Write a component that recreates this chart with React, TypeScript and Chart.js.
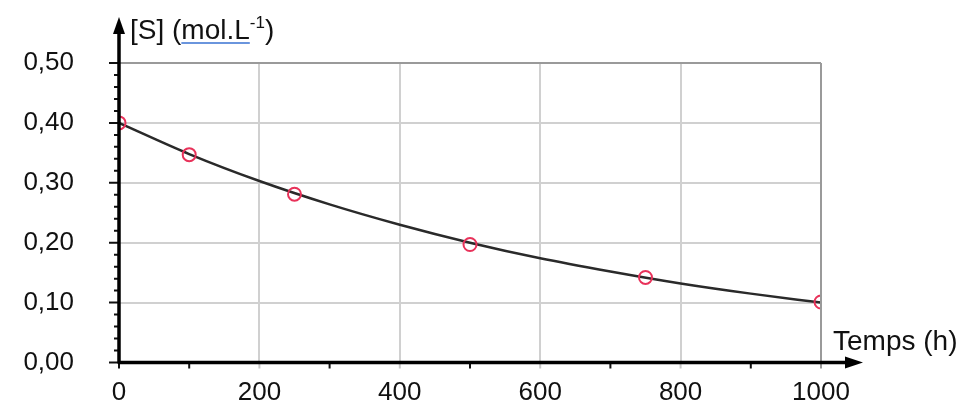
import React, { useEffect, useRef } from "react";
import { Chart, registerables } from "chart.js";

Chart.register(...registerables);

const measuredTimes = [0, 100, 250, 500, 750, 1000];
const measuredConc = [0.4, 0.347, 0.281, 0.197, 0.142, 0.101];

const curveTimes = [0, 100, 200, 300, 400, 500, 600, 700, 800, 900, 1000];
const curveConc = [0.4, 0.348, 0.303, 0.264, 0.23, 0.2, 0.174, 0.152, 0.132, 0.115, 0.1];

const yTitleMain = "[S] (";
const yTitleUnit = "mol.L";
const yTitleSup = "-1";
const yTitleEnd = ")";
const xTitle = "Temps (h)";

const X_MIN = 0;
const X_MAX = 1000;
const Y_MIN = 0;
const Y_MAX = 0.5;
const xMinorTicks = [0, 100, 200, 300, 400, 500, 600, 700, 800, 900, 1000];
const yMinorTicks = [0, 0.02, 0.04, 0.06, 0.08, 0.1, 0.12, 0.14, 0.16, 0.18, 0.2, 0.22, 0.24, 0.26, 0.28, 0.3, 0.32, 0.34, 0.36, 0.38, 0.4, 0.42, 0.44, 0.46, 0.48, 0.5];

const FONT = "'Liberation Sans', Arial, sans-serif";

const axesPlugin = {
  id: "axesPlugin",
  afterDraw(chart: any) {
    const ctx = chart.ctx;
    const xs = chart.scales.x;
    const ys = chart.scales.y;
    const x0 = xs.getPixelForValue(X_MIN);
    const x1 = xs.getPixelForValue(X_MAX);
    const y0 = ys.getPixelForValue(Y_MIN);
    const y1 = ys.getPixelForValue(Y_MAX);
    ctx.save();
    ctx.strokeStyle = "#9a9a9a";
    ctx.lineWidth = 2;
    ctx.beginPath();
    ctx.moveTo(x0, y1);
    ctx.lineTo(x1, y1);
    ctx.moveTo(x1, y1);
    ctx.lineTo(x1, y0 + 6);
    ctx.stroke();

    ctx.strokeStyle = "#111";
    ctx.lineWidth = 2;
    ctx.beginPath();
    yMinorTicks.forEach((v) => {
      const py = ys.getPixelForValue(v);
      const major = Math.abs(v * 10 - Math.round(v * 10)) < 1e-6;
      ctx.moveTo(x0, py);
      ctx.lineTo(x0 - (major ? 10 : 5), py);
    });
    xMinorTicks.forEach((v) => {
      const px = xs.getPixelForValue(v);
      if (v % 200 !== 0 || v === 0) {
        ctx.moveTo(px, y0);
        ctx.lineTo(px, y0 + 6);
      }
    });
    ctx.stroke();
    ctx.strokeStyle = "#c8c8c8";
    ctx.beginPath();
    xMinorTicks.forEach((v) => {
      const px = xs.getPixelForValue(v);
      if (v % 200 === 0 && v !== 0 && v !== X_MAX) {
        ctx.moveTo(px, y0);
        ctx.lineTo(px, y0 + 6);
      }
    });
    ctx.stroke();

    ctx.strokeStyle = "#000";
    ctx.fillStyle = "#000";
    ctx.lineWidth = 3.5;
    ctx.beginPath();
    ctx.moveTo(x0, y0 + 1);
    ctx.lineTo(x0, 30);
    ctx.moveTo(x0 - 1, y0);
    ctx.lineTo(850, y0);
    ctx.stroke();
    ctx.beginPath();
    ctx.moveTo(x0, 17);
    ctx.lineTo(x0 - 6, 34);
    ctx.lineTo(x0 + 6, 34);
    ctx.closePath();
    ctx.fill();
    ctx.beginPath();
    ctx.moveTo(863, y0);
    ctx.lineTo(845, y0 - 6);
    ctx.lineTo(845, y0 + 6);
    ctx.closePath();
    ctx.fill();

    ctx.fillStyle = "#111";
    ctx.textBaseline = "alphabetic";
    ctx.textAlign = "left";
    ctx.font = `28px ${FONT}`;
    let tx = 130;
    const ty = 39;
    ctx.fillText(yTitleMain, tx, ty);
    tx += ctx.measureText(yTitleMain).width;
    const uStart = tx;
    ctx.fillText(yTitleUnit, tx, ty);
    tx += ctx.measureText(yTitleUnit).width;
    const uEnd = tx;
    ctx.font = `17px ${FONT}`;
    ctx.fillText(yTitleSup, tx, ty - 11);
    tx += ctx.measureText(yTitleSup).width;
    ctx.font = `28px ${FONT}`;
    ctx.fillText(yTitleEnd, tx, ty);
    ctx.strokeStyle = "#6a95dd";
    ctx.lineWidth = 2;
    ctx.beginPath();
    ctx.moveTo(uStart, ty + 4);
    ctx.lineTo(uEnd, ty + 4);
    ctx.stroke();

    ctx.font = `28px ${FONT}`;
    ctx.fillText(xTitle, 833, 350);
    ctx.restore();
  },
};

export default function App() {
  const ref = useRef<HTMLCanvasElement | null>(null);
  useEffect(() => {
    document.body.style.margin = "0";
    const canvas = ref.current;
    if (!canvas) return;
    const chart = new Chart(canvas, {
      type: "scatter",
      data: {
        datasets: [
          {
            label: "fit",
            data: curveTimes.map((t, i) => ({ x: t, y: curveConc[i] })),
            showLine: true,
            borderColor: "#2a2a2a",
            borderWidth: 2.5,
            pointRadius: 0,
            cubicInterpolationMode: "monotone",
            order: 2,
          },
          {
            label: "mesures",
            data: measuredTimes.map((t, i) => ({ x: t, y: measuredConc[i] })),
            showLine: false,
            borderColor: "#e8325a",
            backgroundColor: "rgba(0,0,0,0)",
            borderWidth: 2,
            pointRadius: 6.5,
            order: 1,
          },
        ],
      },
      options: {
        animation: false,
        responsive: false,
        maintainAspectRatio: false,
        layout: { padding: { left: 0, top: 63, right: 156, bottom: 0 } },
        plugins: { legend: { display: false }, tooltip: { enabled: false } },
        scales: {
          x: {
            type: "linear",
            min: X_MIN,
            max: X_MAX,
            afterFit: (s: any) => {
              s.height = 57.5;
            },
            ticks: {
              stepSize: 200,
              padding: 15,
              color: "#111",
              font: { family: FONT, size: 26 },
              maxRotation: 0,
              callback: (v: any) => String(v),
            },
            grid: { color: "#d0d0d0", lineWidth: 2, drawTicks: false },
            border: { display: false },
          },
          y: {
            type: "linear",
            min: Y_MIN,
            max: Y_MAX,
            afterFit: (s: any) => {
              s.width = 119;
            },
            ticks: {
              stepSize: 0.1,
              padding: 8,
              color: "#111",
              font: { family: FONT, size: 26 },
              callback: (v: any) => Number(v).toFixed(2).replace(".", ","),
            },
            grid: {
              color: "#d0d0d0",
              lineWidth: 2,
              drawTicks: true,
              tickLength: 37,
              tickColor: "rgba(0,0,0,0)",
            },
            border: { display: false },
          },
        },
      },
      plugins: [axesPlugin],
    });
    return () => chart.destroy();
  }, []);
  return (
    <div style={{ width: 977, height: 420, position: "relative" }}>
      <canvas ref={ref} width={977} height={420} style={{ display: "block" }} />
    </div>
  );
}
